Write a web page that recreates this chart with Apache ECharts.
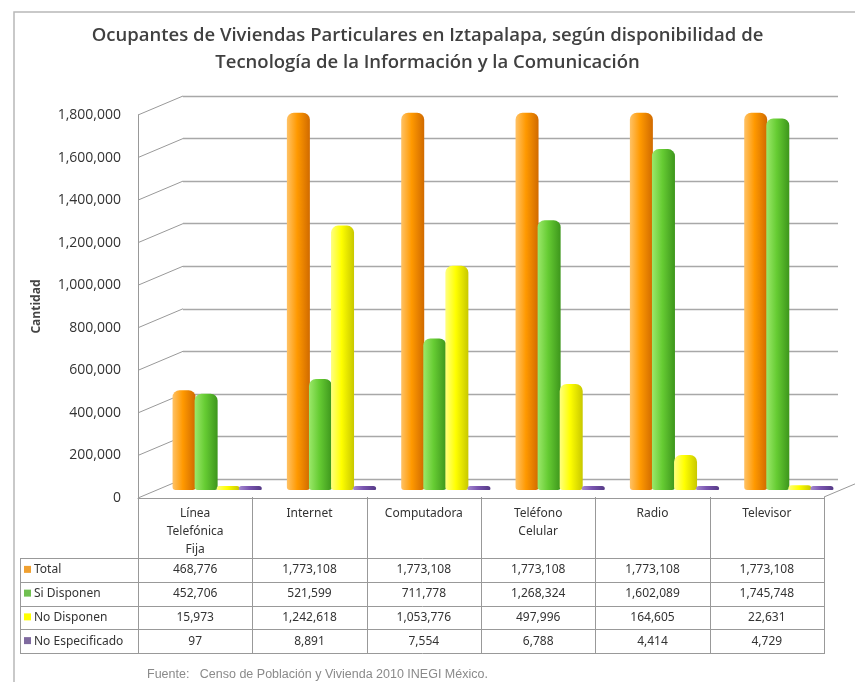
<!DOCTYPE html>
<html>
<head>
<meta charset="utf-8">
<script src="https://cdn.jsdelivr.net/npm/echarts@6/dist/echarts.min.js"></script>
<style>
  html, body { margin: 0; padding: 0; background: #fff; }
  #chart { width: 855px; height: 682px; }
</style>
</head>
<body>
<div id="chart"></div>
<script>
// datos (Censo 2010 INEGI)
const categories = ['Línea\nTelefónica\nFija', 'Internet', 'Computadora', 'Teléfono\nCelular', 'Radio', 'Televisor']
const seriesNames = ['Total', 'Si Disponen', 'No Disponen', 'No Especificado']
const total = [468776, 1773108, 1773108, 1773108, 1773108, 1773108]
const siDisponen = [452706, 521599, 711778, 1268324, 1602089, 1745748]
const noDisponen = [15973, 1242618, 1053776, 497996, 164605, 22631]
const noEspecificado = [97, 8891, 7554, 6788, 4414, 4729]
const yTicks = [0, 200000, 400000, 600000, 800000, 1000000, 1200000, 1400000, 1600000, 1800000]

const chart = echarts.init(document.getElementById('chart'))

// colores tipo cilindro (izq claro, centro, der oscuro)
const palette = [
  ['#ffc266', '#ff9900', '#d06a00'],
  ['#9be86a', '#66cc33', '#3d961c'],
  ['#ffff80', '#ffff00', '#c8c800'],
  ['#a58ad0', '#7a55b0', '#553a86'],
]
const swatch = ['#f0a030', '#70c050', '#ffff00', '#7f6a9f']

function cyl(c) {
  return new echarts.graphic.LinearGradient(0, 0, 1, 0, [
    { offset: 0, color: c[0] },
    { offset: 0.45, color: c[1] },
    { offset: 1, color: c[2] },
  ])
}

// layout
const plotLeft = 138
const plotRight = 824
const depthX = 45
const depthY = -19
const colW = (plotRight - plotLeft) / categories.length
const headTop = 497
const headBottom = 558
const rowH = 23.75
const tableLeft = 20

const font = 'Open Sans'
const tableFont = 'Noto Sans'

// tabla de datos
const allData = [total, siDisponen, noDisponen, noEspecificado]
let graphics = []

// marco exterior
graphics.push({
  type: 'rect',
  shape: { x: 14, y: 12, width: 900, height: 720 },
  style: { fill: 'none', stroke: '#b8b8b8', lineWidth: 1.5 },
  silent: true,
})

// borde derecho del piso
graphics.push({
  type: 'line',
  shape: { x1: plotRight, y1: headTop, x2: plotRight + depthX, y2: headTop + depthY },
  style: { stroke: '#999', lineWidth: 1 },
})

for (let i = 0; i <= categories.length; i++) {
  let x = Math.round(plotLeft + i * colW) + 0.5
  graphics.push({
    type: 'line',
    shape: { x1: x, y1: headTop, x2: x, y2: headBottom + rowH * 4 },
    style: { stroke: '#999', lineWidth: 1 },
  })
}
graphics.push({
  type: 'line',
  shape: { x1: tableLeft + 0.5, y1: headBottom, x2: tableLeft + 0.5, y2: headBottom + rowH * 4 },
  style: { stroke: '#999', lineWidth: 1 },
})
for (let j = 0; j <= 4; j++) {
  let y = Math.round(headBottom + j * rowH) + 0.5
  graphics.push({
    type: 'line',
    shape: { x1: tableLeft, y1: y, x2: plotRight + 1, y2: y },
    style: { stroke: '#999', lineWidth: 1 },
  })
}
categories.forEach((c, i) => {
  graphics.push({
    type: 'text',
    x: plotLeft + (i + 0.5) * colW,
    y: 505,
    style: {
      text: c,
      align: 'center',
      verticalAlign: 'top',
      lineHeight: 18,
      font: '12px "' + tableFont + '"',
      fill: '#333',
    },
  })
})
seriesNames.forEach((name, j) => {
  let cy = headBottom + (j + 0.5) * rowH
  graphics.push({
    type: 'rect',
    shape: { x: 24, y: cy - 4, width: 7, height: 7 },
    style: { fill: swatch[j] },
  })
  graphics.push({
    type: 'text',
    x: 34,
    y: cy,
    style: {
      text: name,
      verticalAlign: 'middle',
      font: '12px "' + tableFont + '"',
      fill: '#333',
    },
  })
  allData[j].forEach((v, i) => {
    graphics.push({
      type: 'text',
      x: plotLeft + (i + 0.5) * colW,
      y: cy,
      style: {
        text: v.toLocaleString('en-US'),
        align: 'center',
        verticalAlign: 'middle',
        font: '12px "' + tableFont + '"',
        fill: '#333',
      },
    })
  })
})

// fuente
graphics.push({
  type: 'text',
  x: 147,
  y: 675,
  style: {
    text: 'Fuente:   Censo de Población y Vivienda 2010 INEGI México.',
    verticalAlign: 'middle',
    font: '12.5px "Liberation Sans"',
    fill: '#8a8a8a',
  },
})

let barSeries = allData.map((d, j) => ({
  name: seriesNames[j],
  type: 'bar',
  xAxisIndex: 2,
  yAxisIndex: 2,
  data: d,
  barWidth: 23,
  barGap: '-4%',
  barMinHeight: 4,
  itemStyle: {
    color: cyl(palette[j]),
    borderRadius: [7, 7, 3, 3],
  },
  silent: true,
}))

let option = {
  animation: false,
  title: {
    text: 'Ocupantes de Viviendas Particulares en Iztapalapa, según disponibilidad de\nTecnología de la Información y la Comunicación',
    left: 'center',
    top: 17,
    textStyle: {
      fontFamily: font,
      fontSize: 18.5,
      fontWeight: 600,
      color: '#404040',
      lineHeight: 27,
    },
  },
  grid: [
    // frente: etiquetas
    { left: plotLeft, right: 855 - plotRight, top: 115, bottom: 682 - 498 },
    // pared del fondo
    { left: plotLeft + depthX, right: 17, top: 115 + depthY, bottom: 682 - 498 - depthY },
    // barras
    { left: plotLeft + 22, right: 855 - plotRight - 22, top: 107, bottom: 192 },
  ],
  xAxis: [
    {
      gridIndex: 0, type: 'value', min: 0, max: 1,
      axisLine: { show: true, lineStyle: { color: '#999' } },
      axisTick: { show: false }, axisLabel: { show: false }, splitLine: { show: false },
    },
    { gridIndex: 1, type: 'value', min: 0, max: 1, show: false },
    { gridIndex: 2, type: 'category', data: categories, show: false },
  ],
  yAxis: [
    {
      gridIndex: 0, type: 'value', min: 0, max: 1800000, interval: 200000,
      name: 'Cantidad',
      nameLocation: 'middle',
      nameGap: 95,
      nameRotate: 90,
      nameTextStyle: { fontFamily: font, fontSize: 12, fontWeight: 'bold', color: '#444' },
      axisLine: { show: true, lineStyle: { color: '#999' } },
      axisTick: { show: false },
      splitLine: { show: false },
      axisLabel: {
        margin: 17,
        fontFamily: font,
        fontSize: 14,
        color: '#333',
        formatter: (v) => v.toLocaleString('en-US'),
      },
    },
    {
      gridIndex: 1, type: 'value', min: 0, max: 1800000, interval: 200000,
      axisLine: { show: false }, axisTick: { show: false }, axisLabel: { show: false },
      splitLine: { show: true, lineStyle: { color: '#a8a8a8', width: 1.3 } },
    },
    { gridIndex: 2, type: 'value', min: 0, max: 1800000, show: false },
  ],
  series: [
    // lineas diagonales de profundidad
    {
      type: 'custom',
      xAxisIndex: 0,
      yAxisIndex: 0,
      silent: true,
      data: yTicks.map((v) => [0, v]),
      renderItem: (params, api) => {
        let p = api.coord([0, api.value(1)])
        return {
          type: 'line',
          shape: { x1: p[0], y1: p[1], x2: p[0] + depthX, y2: p[1] + depthY },
          style: { stroke: '#999', lineWidth: 1 },
        }
      },
    },
    ...barSeries,
  ],
  graphic: graphics,
}
chart.setOption(option)
</script>
</body>
</html>
